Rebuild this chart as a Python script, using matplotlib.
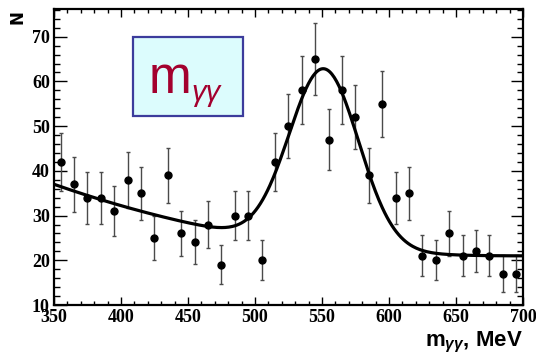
import matplotlib
matplotlib.use("Agg")
import numpy as np
import matplotlib.pyplot as plt
from matplotlib.patches import Rectangle
from matplotlib.ticker import MultipleLocator

# two-photon invariant mass spectrum, 10 MeV bins
mass = [355, 365, 375, 385, 395, 405, 415, 425, 435, 445, 455, 465,
        475, 485, 495, 505, 515, 525, 535, 545, 555, 565, 575, 585,
        595, 605, 615, 625, 635, 645, 655, 665, 675, 685, 695]
counts = [42, 37, 34, 34, 31, 38, 35, 25, 39, 26, 24, 28,
          19, 30, 30, 20, 42, 50, 58, 65, 47, 58, 52, 39,
          55, 34, 35, 21, 20, 26, 21, 22, 21, 17, 17]
errors = [6.5, 6.1, 5.8, 5.8, 5.6, 6.2, 5.9, 5.0, 6.2, 5.1, 4.9, 5.3,
          4.4, 5.5, 5.5, 4.5, 6.5, 7.1, 7.6, 8.1, 6.9, 7.6, 7.2, 6.2,
          7.4, 5.8, 5.9, 4.6, 4.5, 5.1, 4.6, 4.7, 4.6, 4.1, 4.1]

# fit: falling background + gaussian eta peak
BG_LEVEL = 21.0
BG_RISE = 16.0
BG_POWER = 2.3
PEAK_AMP = 39.6
PEAK_MASS = 551.5
PEAK_SIGMA = 26.0
FIT_RANGE = (351, 700)


def fit_curve(m):
    t = (700.0 - m) / 350.0
    bg = BG_LEVEL + BG_RISE * t ** BG_POWER
    peak = PEAK_AMP * np.exp(-0.5 * ((m - PEAK_MASS) / PEAK_SIGMA) ** 2)
    return bg + peak


plt.rcParams["mathtext.fontset"] = "custom"
plt.rcParams["mathtext.rm"] = "Liberation Sans:bold"
plt.rcParams["mathtext.it"] = "Liberation Sans:bold:italic"
plt.rcParams["mathtext.bf"] = "Liberation Sans:bold"

fig = plt.figure(figsize=(5.36, 3.55), dpi=100)
ax = fig.add_axes([0.1007, 0.1408, 0.875, 0.834])

ax.errorbar(mass, counts, yerr=errors, fmt="o", color="black", ms=5,
            ecolor="#4a4a4a", elinewidth=1.0, capsize=1.5, capthick=1.0, zorder=3)

mm = np.linspace(FIT_RANGE[0], FIT_RANGE[1], 400)
ax.plot(mm, fit_curve(mm), color="black", lw=2.3, zorder=4)

ax.set_xlim(350, 700)
ax.set_ylim(10, 76.2)
ax.xaxis.set_major_locator(MultipleLocator(50))
ax.xaxis.set_minor_locator(MultipleLocator(10))
ax.yaxis.set_major_locator(MultipleLocator(10))
ax.yaxis.set_minor_locator(MultipleLocator(2))
ax.tick_params(axis="both", which="both", direction="in", top=True, right=True, width=1.0)
ax.tick_params(axis="x", which="major", length=5.5, pad=3)
ax.tick_params(axis="x", which="minor", length=2.8)
ax.tick_params(axis="y", which="major", length=9, pad=3)
ax.tick_params(axis="y", which="minor", length=4.5)
for spine in ax.spines.values():
    spine.set_linewidth(1.6)
for lab in ax.get_xticklabels() + ax.get_yticklabels():
    lab.set_fontfamily("Liberation Serif")
    lab.set_fontweight("bold")
    lab.set_fontsize(13)

# axis titles in the ROOT style
fig.text(17 / 536, 1 - 17.5 / 355, "N", rotation=90, ha="center", va="center",
         fontsize=12, fontweight="heavy", family="DejaVu Sans")
fig.text(523 / 536, 1 - 342 / 355, r"m$_{\gamma\gamma}$, MeV", ha="right", va="center",
         fontsize=16, fontweight="bold", family="Liberation Sans")

# label box
box = Rectangle((133 / 536, 1 - 116 / 355), 110 / 536, 79 / 355, transform=fig.transFigure,
                facecolor="#dcfcfd", edgecolor="#3c3c9c", lw=1.6, zorder=5)
fig.patches.append(box)
fig.text(191 / 536, 1 - 93 / 355, "m", ha="right", va="baseline",
         fontsize=37, color="#a3002e", family="Liberation Sans", zorder=6)
fig.text(191 / 536, 1 - 101 / 355, "γγ", ha="left", va="baseline",
         fontsize=21, style="italic", color="#a3002e", family="Liberation Sans", zorder=6)

fig.savefig("out.png", dpi=100)
